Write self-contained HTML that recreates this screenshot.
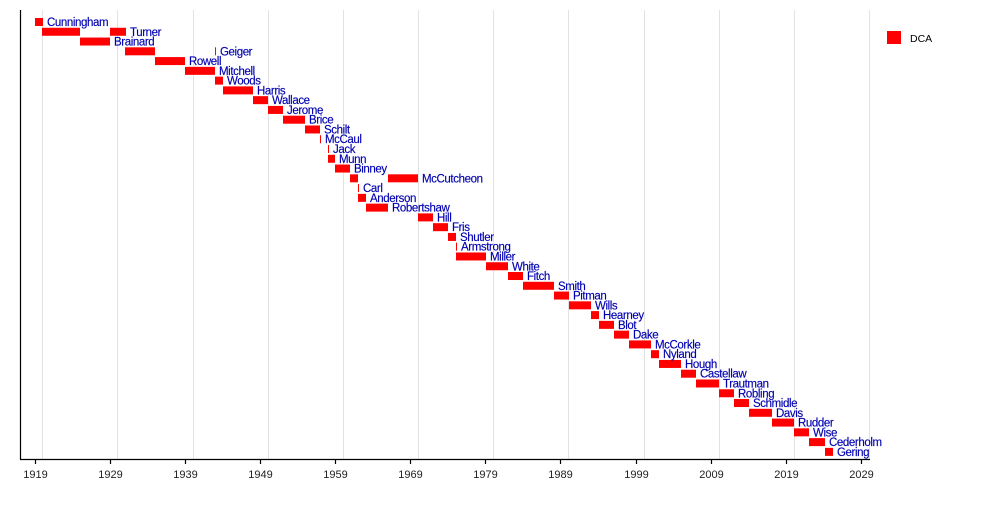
<!DOCTYPE html>
<html><head><meta charset="utf-8"><style>body{margin:0;background:#fff}svg{display:block}</style></head><body>
<svg width="1000" height="508" xmlns="http://www.w3.org/2000/svg" font-family="Liberation Sans, sans-serif">
<g stroke="#e2e2e2" stroke-width="1">
<line x1="42.5" y1="10" x2="42.5" y2="459"/><line x1="117.5" y1="10" x2="117.5" y2="459"/><line x1="193.5" y1="10" x2="193.5" y2="459"/><line x1="268.5" y1="10" x2="268.5" y2="459"/><line x1="343.5" y1="10" x2="343.5" y2="459"/><line x1="418.5" y1="10" x2="418.5" y2="459"/><line x1="493.5" y1="10" x2="493.5" y2="459"/><line x1="568.5" y1="10" x2="568.5" y2="459"/><line x1="644.5" y1="10" x2="644.5" y2="459"/><line x1="719.5" y1="10" x2="719.5" y2="459"/><line x1="794.5" y1="10" x2="794.5" y2="459"/><line x1="869.5" y1="10" x2="869.5" y2="459"/>
</g>
<g id="bars" fill="#ff0000"></g>
<g id="labels" fill="#0000b0" font-size="11.5" letter-spacing="-0.4" stroke="#0000b0" stroke-width="0.15"></g>
<g stroke="#000" stroke-width="1.2">
<line x1="20.5" y1="10" x2="20.5" y2="459.5"/><line x1="20" y1="459.5" x2="870" y2="459.5"/>
<line x1="35.5" y1="459" x2="35.5" y2="464"/><line x1="110.5" y1="459" x2="110.5" y2="464"/><line x1="185.5" y1="459" x2="185.5" y2="464"/><line x1="260.5" y1="459" x2="260.5" y2="464"/><line x1="335.5" y1="459" x2="335.5" y2="464"/><line x1="410.5" y1="459" x2="410.5" y2="464"/><line x1="485.5" y1="459" x2="485.5" y2="464"/><line x1="560.5" y1="459" x2="560.5" y2="464"/><line x1="636.5" y1="459" x2="636.5" y2="464"/><line x1="711.5" y1="459" x2="711.5" y2="464"/><line x1="786.5" y1="459" x2="786.5" y2="464"/><line x1="861.5" y1="459" x2="861.5" y2="464"/>
</g>
<g font-size="11" fill="#222" text-anchor="middle">
<text x="35.5" y="478">1919</text><text x="110.5" y="478">1929</text><text x="185.5" y="478">1939</text><text x="260.5" y="478">1949</text><text x="335.5" y="478">1959</text><text x="410.5" y="478">1969</text><text x="485.5" y="478">1979</text><text x="560.5" y="478">1989</text><text x="636.5" y="478">1999</text><text x="711.5" y="478">2009</text><text x="786.5" y="478">2019</text><text x="861.5" y="478">2029</text>
</g>
<rect x="887" y="31" width="14" height="13" fill="#ff0000"/>
<text x="910" y="42" font-size="10.5" fill="#000">DCA</text>
<script>
var rows=[[[35,43]],[[42,80],[110,126]],[[80,110]],[[125,155],[215,216]],[[155,185]],[[185,215]],[[215,223]],[[223,253]],[[253,268]],[[268,283]],[[283,305]],[[305,320]],[[320,321]],[[328,329]],[[328,335]],[[335,350]],[[350,358],[388,418]],[[358,359]],[[358,366]],[[366,388]],[[418,433]],[[433,448]],[[448,456]],[[456,457]],[[456,486]],[[486,508]],[[508,523]],[[523,554]],[[554,569]],[[569,591]],[[591,599]],[[599,614]],[[614,629]],[[629,651]],[[651,659]],[[659,681]],[[681,696]],[[696,719]],[[719,734]],[[734,749]],[[749,772]],[[772,794]],[[794,809]],[[809,825]],[[825,833]]];
var names=["Cunningham","Turner","Brainard","Geiger","Rowell","Mitchell","Woods","Harris","Wallace","Jerome","Brice","Schilt","McCaul","Jack","Munn","Binney","McCutcheon","Carl","Anderson","Robertshaw","Hill","Fris","Shutler","Armstrong","Miller","White","Fitch","Smith","Pitman","Wills","Hearney","Blot","Dake","McCorkle","Nyland","Hough","Castellaw","Trautman","Robling","Schmidle","Davis","Rudder","Wise","Cederholm","Gering"];
var ns="http://www.w3.org/2000/svg",b=document.getElementById("bars"),l=document.getElementById("labels");
rows.forEach(function(r,i){var c=22+i*9.77;r.forEach(function(s){var e=document.createElementNS(ns,"rect");e.setAttribute("x",s[0]);e.setAttribute("y",c-4);e.setAttribute("width",Math.max(1,s[1]-s[0]));e.setAttribute("height",8);b.appendChild(e);});
var t=document.createElementNS(ns,"text");t.setAttribute("x",r[r.length-1][1]+4);t.setAttribute("y",c+4);t.textContent=names[i];l.appendChild(t);});
</script>
</svg>
</body></html>
